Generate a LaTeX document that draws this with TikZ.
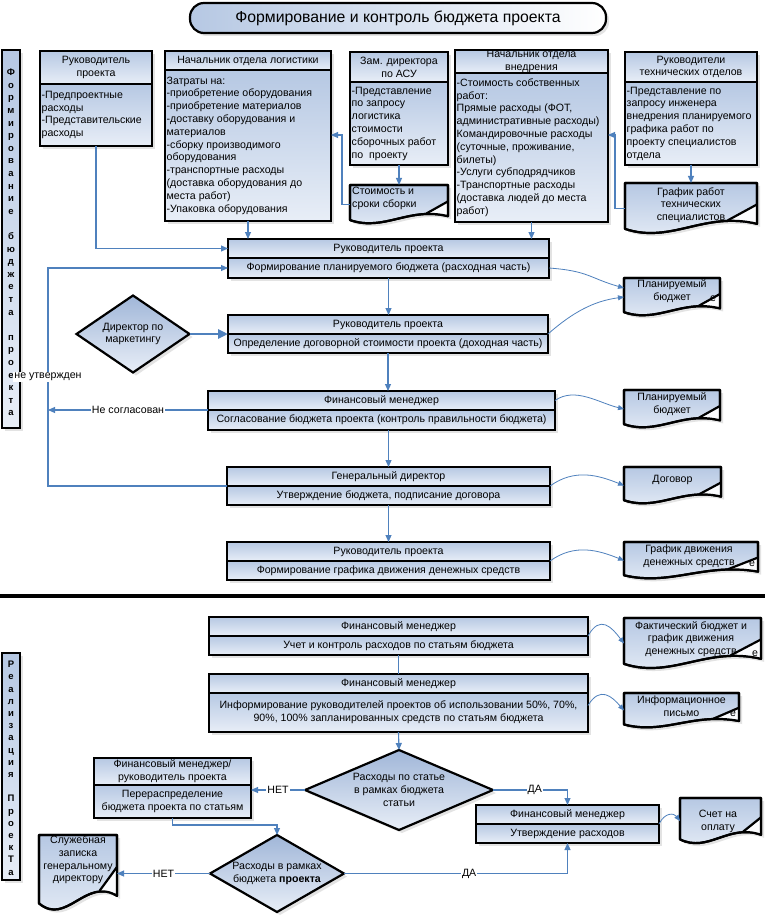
\documentclass[tikz,border=0pt]{standalone}
\usepackage{fontspec}
\setmainfont{Liberation Sans}
\usetikzlibrary{arrows.meta,shapes.geometric,shadows}
\definecolor{bt}{RGB}{182,200,227}
\definecolor{bb}{RGB}{232,238,247}
\definecolor{dt}{RGB}{160,182,216}
\definecolor{cn}{RGB}{79,129,189}
\newcommand\fsz{\fontsize{10.6}{12.8}\selectfont}
\tikzset{
  x=1pt, y=-1pt,
  shad/.style={drop shadow={shadow xshift=3pt, shadow yshift=-3pt, fill=black!18, opacity=0.6}},
  frame/.style={draw=black, line width=2.2pt, top color=bt, bottom color=bb, outer sep=0pt, inner sep=0pt, anchor=north west, shad},
  hd/.style={frame, align=center, font=\fsz},
  bd/.style={frame},
  txt/.style={font=\fsz, align=left, inner sep=1.5pt, anchor=west},
  dtxt/.style={font=\fsz, align=center, inner sep=0pt},
  docst/.style={draw=black, line width=2.2pt, top color=bt, bottom color=bb, line join=round, shad},
  docline/.style={draw=black, line width=2.2pt, line join=round},
  dia/.style={diamond, draw=black, line width=2.2pt, top color=dt, bottom color=bb, inner sep=0pt, outer sep=0pt, align=center, font=\fsz, shad},
  conn/.style={draw=cn, line width=1.1pt, -{Triangle[length=7pt,width=6pt]}},
  cconn/.style={draw=cn, line width=0.8pt, -{Triangle[length=6pt,width=5pt]}},
  plainconn/.style={draw=cn, line width=1.1pt},
  lab/.style={fill=white, inner sep=1pt, font=\fsz, text=black},
  barletters/.style={font=\fontsize{9.5}{12.6}\selectfont\bfseries, align=center, inner sep=0pt, anchor=north}
}
\newcommand\twobox[8]{%
  \node[hd, minimum width={(#4-#2)*1pt}, minimum height={(#5-#3)*1pt}] (#1h) at (#2,#3) {#7};
  \node[hd, minimum width={(#4-#2)*1pt}, minimum height={(#6-#5)*1pt}] (#1b) at (#2,#5) {#8};
}
\newcommand\cbox[8]{%
  \node[hd, minimum width={(#4-#2)*1pt}, minimum height={(#5-#3)*1pt}] (#1h) at (#2,#3) {#7};
  \node[bd, minimum width={(#4-#2)*1pt}, minimum height={(#6-#5)*1pt}] (#1b) at (#2,#5) {};
  \node[txt] (#1t) at (#1b.west) {#8};
}
\newcommand\docsh[5]{%
  \pgfmathsetmacro\dw{#4-#2}%
  \pgfmathsetmacro\dh{#5-#3}%
  \path[docst] (#2,#3) -- (#4,#3) -- (#4,#5-0.2*\dh)
     .. controls (#2+0.6*\dw,#5-0.45*\dh) and (#2+0.35*\dw,#5+0.2*\dh) .. (#2,#5-0.1*\dh) -- cycle;
  \fill[white!85!bb] (#4,#3+0.42*\dh) -- (#4-0.22*\dw,#5-0.27*\dh) -- (#4,#5-0.2*\dh) -- cycle;
  \draw[line width=2.2pt, line cap=round] (#4,#3+0.42*\dh) -- (#4-0.22*\dw,#5-0.27*\dh);
  \draw[docline] (#2,#3) -- (#4,#3) -- (#4,#5-0.2*\dh)
     .. controls (#2+0.6*\dw,#5-0.45*\dh) and (#2+0.35*\dw,#5+0.2*\dh) .. (#2,#5-0.1*\dh) -- cycle;
  \node[outer sep=0pt, inner sep=0pt, minimum width={(#4-#2)*1pt}, minimum height={(#5-#3)*1pt}, anchor=north west] (#1) at (#2,#3) {};
}
\begin{document}
\begin{tikzpicture}
\useasboundingbox (0,0) rectangle (765,917);
\fill[white] (0,0) rectangle (765,917);

% title
\node[draw=black, line width=2.2pt, rounded corners=14pt, left color=bt, right color=white, shad,
      minimum width=416pt, minimum height=30pt, anchor=north west, outer sep=0pt, inner sep=0pt,
      font=\fontsize{15.8}{17}\selectfont] (title) at (190,3) {Формирование и контроль бюджета проекта};

% left bars
\node[frame, minimum width=18pt, minimum height=378pt] (bar1) at (2,50) {};
\node[barletters] (bar1t) at (11,69) {Ф\\о\\р\\м\\и\\р\\о\\в\\а\\н\\и\\е\\\mbox{}\\б\\ю\\д\\ж\\е\\т\\а\\\mbox{}\\п\\р\\о\\е\\к\\т\\а};
\node[frame, minimum width=18pt, minimum height=227pt] (bar2) at (2,653) {};
\node[barletters, font=\fontsize{9.5}{12.2}\selectfont\bfseries] (bar2t) at (11,661) {Р\\е\\а\\л\\и\\з\\а\\ц\\и\\я\\\mbox{}\\П\\р\\о\\е\\к\\Т\\а};

% separator
\draw[line width=4pt] (0,596) -- (765,596);

% top containers
\cbox{rp}{40}{51}{152}{84}{146}{Руководитель\\проекта}{-Предпроектные\\расходы\\-Представительские\\расходы}
\cbox{log}{165}{51}{331}{70}{221}{Начальник отдела логистики}{Затраты на:\\-приобретение оборудования\\-приобретение материалов\\-доставку оборудования и\\материалов\\-сборку производимого\\оборудования\\-транспортные расходы\\(доставка оборудования до\\места работ)\\-Упаковка оборудования}
\cbox{zam}{350}{52}{448}{82}{165}{Зам. директора\\по АСУ}{-Представление\\по запросу\\логистика\\стоимости\\сборочных работ\\по~~проекту}
\cbox{vnd}{455}{50}{608}{73}{222}{Начальник отдела\\внедрения}{-Стоимость собственных\\работ:\\Прямые расходы (ФОТ,\\административные расходы)\\Командировочные расходы\\(суточные, проживание,\\билеты)\\-Услуги субподрядчиков\\-Транспортные расходы\\(доставка людей до места\\работ)}
\cbox{tech}{625}{52}{757}{82}{165}{Руководители\\технических отделов}{-Представление по\\запросу инженера\\внедрения планируемого\\графика работ по\\проекту специалистов\\отдела}

% documents
\docsh{dzam}{350}{185}{448}{224}
\node[font=\fsz, align=left, inner sep=1pt, anchor=north west] (dzamt) at (351,186) {Стоимость и\\сроки сборки};
\docsh{dtech}{625}{183}{757}{234}
\node[dtxt] (dtecht) at (691,205) {График работ\\технических\\специалистов};
\docsh{d1}{624}{278}{720}{316}
\node[dtxt] (d1t) at (672,291) {Планируемый\\бюджет};
\node[font=\fsz, inner sep=0pt] (e1) at (713,299) {e};
\docsh{d2}{624}{390}{720}{428}
\node[dtxt] (d2t) at (672,404.5) {Планируемый\\бюджет};
\docsh{d3}{624}{467}{721}{504}
\node[dtxt] (d3t) at (672.5,480) {Договор};
\docsh{d4}{624}{542}{758}{579}
\node[dtxt] (d4t) at (689,556) {График движения\\денежных средств};
\node[font=\fsz, inner sep=0pt] (e4) at (752,564) {e};
\docsh{d5}{624}{618}{761}{669}
\node[dtxt] (d5t) at (691,639) {Фактический бюджет и\\график движения\\денежных средств};
\node[font=\fsz, inner sep=0pt] (e5) at (755,654) {e};
\docsh{d6}{624}{693}{739}{728}
\node[dtxt] (d6t) at (681.5,706.5) {Информационное\\письмо};
\node[font=\fsz, inner sep=0pt] (e6) at (733,714) {e};
\docsh{d7}{680}{798}{761}{844}
\node[dtxt] (d7t) at (718,821) {Счет на\\оплату};
\docsh{d8}{39}{835}{117}{911}
\node[dtxt] (d8t) at (78,860) {Служебная\\записка\\генеральному\\директору};

% process boxes
\twobox{p1}{228}{239}{549}{258}{278}{Руководитель проекта}{Формирование планируемого бюджета (расходная часть)}
\twobox{p2}{228}{315}{548}{334}{353}{Руководитель проекта}{Определение договорной стоимости проекта (доходная часть)}
\twobox{p3}{208}{391}{555}{410}{430}{Финансовый менеджер}{Согласование бюджета проекта (контроль правильности бюджета)}
\twobox{p4}{227}{467}{550}{486}{505}{Генеральный директор}{Утверждение бюджета, подписание договора}
\twobox{p5}{227}{542}{550}{561}{580}{Руководитель проекта}{Формирование графика движения денежных средств}
\twobox{l1}{209}{617}{588}{636}{655}{Финансовый менеджер}{Учет и контроль расходов по статьям бюджета}
\twobox{l2}{209}{674}{588}{693}{732}{Финансовый менеджер}{Информирование руководителей проектов об использовании 50\%, 70\%,\\90\%, 100\% запланированных средств по статьям бюджета}
\twobox{f}{94}{758}{251}{785}{818}{Финансовый менеджер/\\руководитель проекта}{Перераспределение\\бюджета проекта по статьям}
\twobox{u}{476}{805}{659}{824}{843}{Финансовый менеджер}{Утверждение расходов}

% diamonds
\node[dia, aspect=1.47, minimum width=113pt, minimum height=77pt] (dm) at (133,334) {Директор по\\маркетингу};
\node[dia, aspect=2.35, minimum width=188pt, minimum height=80pt] (dd1) at (399,790) {Расходы по статье\\в рамках бюджета\\статьи};
\node[dia, aspect=1.74, minimum width=134pt, minimum height=77pt] (dd2) at (277,873.5) {Расходы в рамках\\бюджета \textbf{проекта}};

% connectors, top part
\draw[conn] (rpb.south) |- (p1h.west);
\draw[conn] (logb.south) -- (logb.south |- p1h.north);
\draw[conn] (vndb.south) -- (vndb.south |- p1h.north);
\draw[conn] (zamb.south) -- (dzam.north);
\draw[conn] (dzam.west) -- ++(-8,0) |- (logb.east |- 0,135);
\draw[conn] (techb.south) -- (dtech.north);
\draw[conn] (dtech.west) -- ++(-10,0) |- (vndb.east |- 0,135);

\draw[conn] (p1b.south) -- (p1b.south |- p2h.north);
\draw[conn] (p2b.south) -- (p2b.south |- p3h.north);
\draw[conn] (p3b.south -| p4h.north) -- (p4h.north);
\draw[conn] (p4b.south) -- (p5h.north);
\draw[draw=cn, line width=2.6pt, -{Triangle[length=10pt,width=9pt]}] (dm.east) -- (dm.east -| p2h.west);

\coordinate (nl) at (48,410);
\draw[conn] (p3h.south west) -- node[lab] (lns) {Не согласован} (nl);
\draw[conn] (p4h.south west) -- (p4h.south west -| nl) -- node[lab] (lnu) {не утвержден} (nl |- p1b.west) -- (p1b.west);

\draw[cconn] (p1b.east) .. controls +(40,3) and +(-35,-10) .. ([yshift=9pt]d1.west);
\draw[cconn] (p2h.south east) .. controls +(25,-22) and +(-30,4) .. (d1.west);
\draw[cconn] (p3h.east) .. controls +(20,-14) and +(-25,-6) .. (d2.west);
\draw[cconn] (p4h.south east) .. controls +(25,-18) and +(-25,-10) .. (d3.west);
\draw[cconn] (p5h.south east) .. controls +(25,-18) and +(-25,-10) .. (d4.west);

% connectors, lower part
\draw[plainconn] (l1b.south) -- (l2h.north);
\draw[cconn] (l1h.south east) .. controls +(12,-22) and +(-12,-16) .. (d5.west);
\draw[cconn] ([yshift=7pt]l2b.east) .. controls +(12,-20) and +(-12,-14) .. (d6.west);
\draw[conn] (l2b.south) -- (dd1.north);
\draw[conn] (dd1.west) -- node[lab] (ln1) {НЕТ} (dd1.west -| fb.east);
\draw[conn] (dd1.east) -| node[lab, pos=0.28] (ld1) {ДА} (uh.north);
\draw[cconn] (uh.south east) .. controls +(6,-12) and +(-6,-8) .. (d7.west);
\draw[conn] (fb.south) -- ++(0,7) -| (dd2.north);
\draw[conn] (dd2.west) -- node[lab] (ln2) {НЕТ} (dd2.west -| d8.east);
\draw[conn] (dd2.east) -| node[lab, pos=0.28] (ld2) {ДА} (ub.south);
\end{tikzpicture}
\end{document}
